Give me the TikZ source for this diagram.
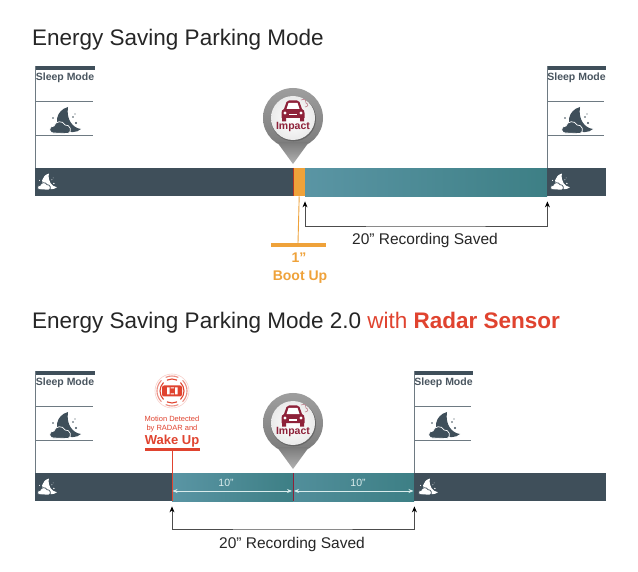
\documentclass[tikz,border=0pt]{standalone}
\usepackage{fontspec}
\setmainfont{Liberation Sans}
\usetikzlibrary{arrows.meta,calc}
\definecolor{darkbar}{HTML}{3F4F5A}
\definecolor{tealL}{HTML}{5A95A4}
\definecolor{tealR}{HTML}{3D7F85}
\definecolor{bootorange}{HTML}{EFA23A}
\definecolor{radarred}{HTML}{E0432F}
\definecolor{maroon}{HTML}{8E2139}
\definecolor{sleepline}{HTML}{6E7A82}
\definecolor{graytext}{HTML}{4A5660}
\tikzset{
  x=1pt,y=-1pt,
  barbox/.style={rectangle,inner sep=0pt,minimum height=28pt,anchor=north west},
  darkseg/.style={barbox,fill=darkbar},
  tealseg/.style={barbox,left color=tealL,right color=tealR},
  title/.style={anchor=base west,inner sep=0pt,font=\fontsize{22.5}{26}\selectfont,text=black!85},
  saved/.style={font=\fontsize{15.5}{18}\selectfont,inner sep=0pt,text=black!85},
  savedarrow/.style={draw=black!70,line width=.8pt,{Stealth[length=6pt,width=5pt,color=black]}-{Stealth[length=6pt,width=5pt,color=black]}},
  span/.style={draw=white!85!teal,line width=.8pt,{Stealth[length=5pt,width=4pt]}-{Stealth[length=5pt,width=4pt]}},
  tenlabel/.style={font=\fontsize{10.5}{12}\selectfont,text=white!85!teal,inner sep=0pt},
  sleeplabel/.style={font=\bfseries\fontsize{10.5}{12}\selectfont,text=graytext,inner sep=0pt},
  pics/moonicon/.style n args={2}{code={
    \fill[#1] (3,-12) .. controls (-9,-9) and (-12,6) .. (-2,11)
      .. controls (4,14) and (12,14) .. (16,10)
      .. controls (8,9) and (1,1) .. (3,-12) -- cycle;
    \fill[#1,draw=#2,line width=.7pt] (-12,14) .. controls (-16,14) and (-17,7) .. (-11,7)
      .. controls (-10,2) and (-2,1) .. (0,6)
      .. controls (5,5) and (8,13) .. (3,14.5) -- cycle;
    \fill[#1] (8,-2) circle[radius=.8] (11,4) circle[radius=1.2] (10,-5) circle[radius=.6] (-12,-1) circle[radius=.9];
  }},
  pics/caricon/.style={code={
    \fill[maroon] (-9,-3) -- (-6.5,-10) .. controls (-6,-11) and (-5,-11.5) .. (-4,-11.5)
      -- (4,-11.5) .. controls (5,-11.5) and (6,-11) .. (6.5,-10) -- (9,-3)
      .. controls (11,-2) and (11.5,-1) .. (11.5,1) -- (11.5,6) -- (-11.5,6) -- (-11.5,1)
      .. controls (-11.5,-1) and (-11,-2) .. (-9,-3) -- cycle;
    \fill[white] (-6.5,-3) -- (-4.5,-9) -- (4.5,-9) -- (6.5,-3) -- cycle;
    \fill[white] (-8,1) circle[radius=1.6] (8,1) circle[radius=1.6];
    \fill[white] (-4,2) rectangle (4,3.5);
    \fill[maroon] (-11,6) rectangle (-7,9.5) (7,6) rectangle (11,9.5);
    \draw[maroon!60,line width=.6pt] (8,-12) .. controls (12,-14) and (14,-11) .. (13,-9)
      .. controls (16,-8) and (15,-5) .. (12,-5);
  }},
  pics/radaricon/.style={code={
    \draw[radarred!25,line width=.6pt] (0,0) circle[radius=17];
    \foreach \r/\o in {15/.6,12/1}{
      \draw[radarred,opacity=\o,line width=1.1pt] (-45:\r) arc[start angle=-45,end angle=45,radius=\r];
      \draw[radarred,opacity=\o,line width=1.1pt] (135:\r) arc[start angle=135,end angle=225,radius=\r];
      \draw[radarred,opacity=\o,line width=1.1pt] (65:\r) arc[start angle=65,end angle=115,radius=\r];
      \draw[radarred,opacity=\o,line width=1.1pt] (245:\r) arc[start angle=245,end angle=295,radius=\r];
    }
    \fill[radarred,rounded corners=2pt] (-10,-5.5) rectangle (10,5.5);
    \fill[white] (-5,-3.5) rectangle (-2.5,3.5) (3,-3.5) rectangle (5.5,3.5);
    \fill[white] (-1.5,-3.5) rectangle (2,-2.5) (-1.5,2.5) rectangle (2,3.5);
  }},
  pics/impactpin/.style={code={
    \shade[top color=black!38,bottom color=black!52] (0,0) circle[radius=30];
    \shade[top color=black!52,bottom color=black!30] (-16,24) -- (0,46) -- (16,24) -- cycle;
    \fill[black!60] (0.5,0.8) circle[radius=22.5];
    \shade[inner color=white,outer color=black!8] (0,0) circle[radius=22];
    \pic at (0,-6) {caricon};
    \node[inner sep=0pt,font=\bfseries\fontsize{10.5}{12}\selectfont,text=maroon] (-pinlabel) at (0,9) {Impact};
  }}
}
\begin{document}
\begin{tikzpicture}
\useasboundingbox (0,0) rectangle (638,572);
\fill[white] (0,0) rectangle (638,572);

% ---------- top panel ----------
\node[title] (titleA) at (32,46) {Energy Saving Parking Mode};

% bar
\node[darkseg,minimum width=258pt] (a1) at (35,168) {};
\node[tealseg,minimum width=242pt] (a3) at (305,168) {};
\node[barbox,fill=bootorange,minimum width=12pt] (a2) at (293,168) {};
\node[darkseg,minimum width=59pt] (a4) at (547,168) {};
\draw[radarred!80!black,line width=.8pt] (a2.north west) -- (a2.south west);

% sleep boxes
\foreach \n/\x/\w in {sa/35/60,sb/547/59}{
  \fill[darkbar] (\x,66) rectangle ++(\w,4);
  \draw[sleepline,line width=.8pt] (\x,66) -- (\x,168);
  \draw[sleepline,line width=.8pt] (\x,101) -- ++(\w-2,0) (\x,135) -- ++(\w-2,0);
  \node[sleeplabel] (\n label) at (\x+\w/2,78) {Sleep Mode};
  \pic at (\x+30,119) {moonicon={darkbar}{white}};
}
\pic[scale=.62] at (47,181) {moonicon={white}{darkbar}};
\pic[scale=.62] at (560,181) {moonicon={white}{darkbar}};

% impact pin
\pic (pinA) at (293,118) {impactpin};

% boot up
\node[rectangle,fill=bootorange,inner sep=0pt,minimum width=55pt,minimum height=3.5pt] (bootbar) at (298,245) {};
\draw[bootorange,line width=.9pt] (a2.south) -- (bootbar.north);
\node[inner sep=0pt,font=\bfseries\fontsize{14}{16}\selectfont,text=bootorange] (bootsec) at (299,258) {1”};
\node[inner sep=0pt,font=\bfseries\fontsize{14}{16}\selectfont,text=bootorange] (bootlabel) at (300,277) {Boot Up};

% recording saved
\coordinate (midA) at (425,226);
\draw[savedarrow] ([yshift=-5pt]a3.south west) |- (midA) -| ([yshift=-5pt]a3.south east);
\node[saved] (savedA) at (425,240) {20” Recording Saved};

% ---------- bottom panel ----------
\node[title] (titleB) at (32,329) {Energy Saving Parking Mode 2.0 \textcolor{radarred}{with \textbf{Radar Sensor}}};

% bar
\node[darkseg,minimum width=137pt] (b1) at (35,473) {};
\node[tealseg,minimum width=121pt] (b2) at (172,473) {};
\node[tealseg,minimum width=121pt,left color=tealL!70!tealR] (b3) at (293,473) {};
\node[darkseg,minimum width=192pt] (b4) at (414,473) {};

% sleep boxes
\foreach \n/\x/\w in {sc/35/60,sd/414/59}{
  \fill[darkbar] (\x,371) rectangle ++(\w,4);
  \draw[sleepline,line width=.8pt] (\x,371) -- (\x,473);
  \draw[sleepline,line width=.8pt] (\x,406) -- ++(\w-2,0) (\x,440) -- ++(\w-2,0);
  \node[sleeplabel] (\n label) at (\x+\w/2,383) {Sleep Mode};
  \pic at (\x+30,424) {moonicon={darkbar}{white}};
}
\pic[scale=.62] at (47,486) {moonicon={white}{darkbar}};
\pic[scale=.62] at (428,486) {moonicon={white}{darkbar}};

% radar wake up
\pic at (172,391) {radaricon};
\node[inner sep=0pt,font=\fontsize{7.5}{9}\selectfont,text=radarred] (m1) at (172,419) {Motion Detected};
\node[inner sep=0pt,font=\fontsize{7.5}{9}\selectfont,text=radarred] (m2) at (172,429) {by RADAR and};
\node[inner sep=0pt,font=\bfseries\fontsize{13}{15}\selectfont,text=radarred] (wake) at (172,441) {Wake Up};
\node[rectangle,fill=radarred,inner sep=0pt,minimum width=55pt,minimum height=3.5pt] (wakebar) at (172,449.5) {};
\draw[radarred,line width=.8pt] (wakebar.south) -- (b2.south west);

% impact pin
\pic (pinB) at (293,423) {impactpin};
\draw[maroon,line width=.8pt] (b3.north west) -- (b3.south west);

% spans
\coordinate (sp1) at (172,491);
\coordinate (sp2) at (293,491);
\coordinate (sp3) at (414,491);
\draw[span] ([xshift=.5pt]sp1) -- ([xshift=-1pt]sp2);
\draw[span] ([xshift=1pt]sp2) -- ([xshift=-.5pt]sp3);
\node[tenlabel] (ten1) at (226,483) {10”};
\node[tenlabel] (ten2) at (358,483) {10”};

% recording saved
\coordinate (midB) at (292,529);
\draw[savedarrow] ([yshift=-5pt]b2.south west) |- (midB) -| ([yshift=-5pt]b3.south east);
\node[saved] (savedB) at (292,544) {20” Recording Saved};
\end{tikzpicture}
\end{document}
